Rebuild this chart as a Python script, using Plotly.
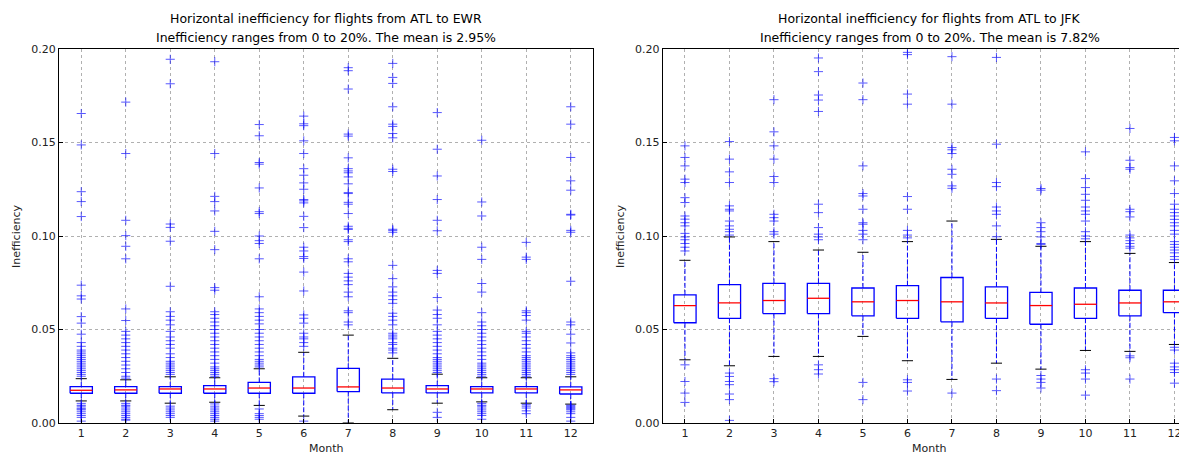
import plotly.graph_objects as go

months = list(range(1, 13))
month_labels = [str(m) for m in months]
y_ticks = [0.0, 0.05, 0.10, 0.15, 0.20]
y_tick_labels = ["0.00", "0.05", "0.10", "0.15", "0.20"]

title_ewr = ["Horizontal inefficiency for flights from ATL to EWR",
             "Inefficiency ranges from 0 to 20%. The mean is 2.95%"]
title_jfk = ["Horizontal inefficiency for flights from ATL to JFK",
             "Inefficiency ranges from 0 to 20%. The mean is 7.82%"]

# ATL -> EWR box statistics
ewr_q1 = [0.0159, 0.0159, 0.0159, 0.0159, 0.0159, 0.0159, 0.0168, 0.0161, 0.0161, 0.0161, 0.0161, 0.0155]
ewr_med = [0.0175, 0.0177, 0.0182, 0.0182, 0.0187, 0.0187, 0.0193, 0.0187, 0.0182, 0.0182, 0.0182, 0.0177]
ewr_q3 = [0.0194, 0.0194, 0.0194, 0.0200, 0.0217, 0.0247, 0.0292, 0.0235, 0.0200, 0.0194, 0.0194, 0.0193]
ewr_lo = [0.0118, 0.0118, 0.0106, 0.0111, 0.0094, 0.0037, 0.0000, 0.0071, 0.0106, 0.0113, 0.0106, 0.0101]
ewr_hi = [0.0237, 0.0231, 0.0247, 0.0242, 0.0290, 0.0378, 0.0470, 0.0346, 0.0261, 0.0242, 0.0242, 0.0247]
ewr_fliers = [
    [0.1655, 0.1487, 0.1237, 0.1184, 0.1104, 0.0737, 0.068, 0.0663, 0.0569, 0.0534, 0.0475, 0.043, 0.041, 0.039,
     0.038, 0.037, 0.036, 0.035, 0.034, 0.033, 0.032, 0.031, 0.030, 0.029, 0.028, 0.027, 0.026, 0.025,
     0.0105, 0.0095, 0.009, 0.008, 0.0075, 0.007, 0.006, 0.005, 0.004, 0.003, 0.001],
    [0.1716, 0.1441, 0.1084, 0.1002, 0.0945, 0.0878, 0.061, 0.0548, 0.049, 0.047, 0.045, 0.043, 0.041, 0.039,
     0.037, 0.035, 0.033, 0.031, 0.029, 0.027, 0.025, 0.024,
     0.0105, 0.0095, 0.009, 0.008, 0.007, 0.006, 0.005, 0.004, 0.003, 0.002, 0.0015],
    [0.1945, 0.1814, 0.1064, 0.1046, 0.0972, 0.0731, 0.0595, 0.057, 0.055, 0.0525, 0.049, 0.046, 0.044, 0.042,
     0.040, 0.037, 0.035, 0.033, 0.032, 0.031, 0.030, 0.029, 0.028, 0.027, 0.026,
     0.009, 0.008, 0.007, 0.006, 0.005, 0.004, 0.003],
    [0.1932, 0.1441, 0.1212, 0.1184, 0.1134, 0.1025, 0.0927, 0.0724, 0.071, 0.0595, 0.058, 0.056, 0.054, 0.052,
     0.050, 0.048, 0.046, 0.044, 0.042, 0.040, 0.038, 0.036, 0.034, 0.032, 0.030, 0.029, 0.028, 0.027, 0.026, 0.025,
     0.0102, 0.009, 0.008, 0.007, 0.006, 0.005, 0.004, 0.003, 0.002, 0.001],
    [0.1596, 0.1536, 0.1393, 0.1384, 0.1257, 0.113, 0.112, 0.1, 0.0975, 0.096, 0.0878, 0.0675, 0.061, 0.059,
     0.057, 0.055, 0.053, 0.050, 0.048, 0.046, 0.044, 0.042, 0.040, 0.038, 0.036, 0.034, 0.033, 0.032, 0.031, 0.030,
     0.0075, 0.005, 0.004, 0.003, 0.002],
    [0.1641, 0.160, 0.159, 0.1509, 0.1441, 0.136, 0.1325, 0.1284, 0.125, 0.1195, 0.1188, 0.1177, 0.1105, 0.1045,
     0.094, 0.092, 0.089, 0.088, 0.0807, 0.0706, 0.0578, 0.056, 0.0534, 0.048, 0.046, 0.045, 0.043, 0.041,
     0.001],
    [0.190, 0.1884, 0.1786, 0.1545, 0.1534, 0.1418, 0.136, 0.1348, 0.1338, 0.1316, 0.1279, 0.1232, 0.1227, 0.118,
     0.117, 0.112, 0.1052, 0.1041, 0.1035, 0.098, 0.097, 0.0878, 0.0862, 0.080, 0.078, 0.076, 0.074, 0.070,
     0.0675, 0.060, 0.059, 0.054, 0.0525],
    [0.1923, 0.1848, 0.1816, 0.1691, 0.1598, 0.1586, 0.1548, 0.1525, 0.1357, 0.1345, 0.1036, 0.103, 0.102,
     0.0843, 0.0772, 0.0728, 0.070, 0.068, 0.066, 0.064, 0.0587, 0.057, 0.055, 0.0525, 0.048, 0.047, 0.046,
     0.045, 0.043, 0.042, 0.040, 0.039, 0.0375],
    [0.166, 0.1464, 0.1321, 0.1195, 0.1084, 0.1028, 0.0816, 0.080, 0.0671, 0.0604, 0.058, 0.056, 0.0525, 0.049,
     0.047, 0.045, 0.043, 0.041, 0.039, 0.037, 0.035, 0.034, 0.033, 0.032, 0.031, 0.030, 0.029, 0.028, 0.027,
     0.0057, 0.003],
    [0.1512, 0.1182, 0.1107, 0.094, 0.0875, 0.0746, 0.070, 0.059, 0.054, 0.052, 0.050, 0.048, 0.046, 0.044,
     0.042, 0.040, 0.038, 0.036, 0.034, 0.032, 0.031, 0.030, 0.029, 0.028, 0.027, 0.026, 0.025,
     0.0105, 0.0095, 0.009, 0.008, 0.007, 0.006, 0.005, 0.004, 0.002],
    [0.0966, 0.0887, 0.0875, 0.060, 0.059, 0.0575, 0.055, 0.049, 0.048, 0.046, 0.044, 0.042, 0.040, 0.038,
     0.036, 0.035, 0.034, 0.033, 0.032, 0.031, 0.030, 0.029, 0.028, 0.027, 0.026, 0.025,
     0.0098, 0.009, 0.008, 0.0065, 0.005],
    [0.1691, 0.1598, 0.142, 0.1295, 0.1245, 0.1116, 0.1112, 0.103, 0.102, 0.0758, 0.054, 0.0525, 0.0475, 0.0428,
     0.0375, 0.036, 0.035, 0.034, 0.033, 0.032, 0.031, 0.030, 0.029, 0.028, 0.027, 0.026,
     0.0095, 0.009, 0.0085, 0.008, 0.0075, 0.007, 0.006, 0.005, 0.003, 0.001],
]

# ATL -> JFK box statistics
jfk_q1 = [0.0536, 0.0560, 0.0585, 0.0585, 0.0573, 0.0560, 0.0541, 0.0560, 0.0528, 0.0560, 0.0573, 0.0590]
jfk_med = [0.0628, 0.0642, 0.0655, 0.0667, 0.0648, 0.0655, 0.0648, 0.0642, 0.0628, 0.0635, 0.0642, 0.0648]
jfk_q3 = [0.0685, 0.0740, 0.0747, 0.0747, 0.0722, 0.0735, 0.0778, 0.0728, 0.0698, 0.0722, 0.0710, 0.0710]
jfk_lo = [0.0338, 0.0306, 0.0356, 0.0356, 0.0463, 0.0333, 0.0233, 0.0320, 0.0288, 0.0388, 0.0383, 0.0420]
jfk_hi = [0.0870, 0.0995, 0.0970, 0.0925, 0.0913, 0.0970, 0.1080, 0.0982, 0.0945, 0.0970, 0.0907, 0.0858]
jfk_fliers = [
    [0.1482, 0.142, 0.1375, 0.1304, 0.1286, 0.1205, 0.1179, 0.1107, 0.109, 0.1071, 0.1054, 0.1014, 0.0995,
     0.098, 0.096, 0.094, 0.092, 0.0311, 0.0222, 0.016, 0.011],
    [0.1505, 0.1411, 0.1343, 0.1286, 0.1161, 0.1143, 0.1134, 0.108, 0.1054, 0.1036, 0.1023, 0.1005,
     0.0267, 0.0249, 0.0222, 0.0205, 0.0155, 0.0125, 0.0014],
    [0.1729, 0.1557, 0.1482, 0.1411, 0.1318, 0.1286, 0.1116, 0.1098, 0.108, 0.1023, 0.101, 0.0237, 0.0221],
    [0.1952, 0.1879, 0.1754, 0.1727, 0.1666, 0.117, 0.1125, 0.1045, 0.101, 0.0995, 0.098, 0.0311, 0.0285, 0.0262],
    [0.1818, 0.1729, 0.1375, 0.1227, 0.1214, 0.1143, 0.1071, 0.1063, 0.103, 0.101, 0.098, 0.0217, 0.0125],
    [0.1982, 0.197, 0.1759, 0.1705, 0.1211, 0.1143, 0.103, 0.1005, 0.099, 0.0231, 0.0217, 0.0171],
    [0.1959, 0.1705, 0.1473, 0.1461, 0.1441, 0.1357, 0.133, 0.1268, 0.1255, 0.016],
    [0.1955, 0.1491, 0.1286, 0.1264, 0.1155, 0.1134, 0.1116, 0.1054, 0.0996, 0.0235, 0.0173],
    [0.1254, 0.1245, 0.1071, 0.1045, 0.1023, 0.0995, 0.096, 0.0955, 0.0254, 0.0235, 0.0217, 0.0187],
    [0.145, 0.1307, 0.1259, 0.1223, 0.1191, 0.1155, 0.1134, 0.1116, 0.108, 0.1023, 0.100, 0.0985,
     0.0285, 0.0267, 0.0235, 0.0149],
    [0.1575, 0.1405, 0.1366, 0.1357, 0.1143, 0.113, 0.1102, 0.1005, 0.099, 0.0975, 0.096, 0.0945, 0.0935,
     0.0359, 0.0349, 0.0235],
    [0.1527, 0.1509, 0.1375, 0.1295, 0.1227, 0.117, 0.1143, 0.1125, 0.1107, 0.1089, 0.1071, 0.1054, 0.103,
     0.101, 0.097, 0.0955, 0.094, 0.0925, 0.091, 0.089, 0.0875,
     0.0405, 0.039, 0.032, 0.030, 0.0285, 0.027, 0.0213],
]

BOX_HALF = 0.25
CAP_HALF = 0.125
FONT = "DejaVu Sans"

fig = go.Figure()


def add_boxplot(q1, med, q3, lo, hi, fliers, xa, ya):
    bx, by, mx, my, wx, wy, cx, cy, fx, fy = [], [], [], [], [], [], [], [], [], []
    for i, m in enumerate(months):
        bx += [m - BOX_HALF, m + BOX_HALF, m + BOX_HALF, m - BOX_HALF, m - BOX_HALF, None]
        by += [q1[i], q1[i], q3[i], q3[i], q1[i], None]
        mx += [m - BOX_HALF, m + BOX_HALF, None]
        my += [med[i], med[i], None]
        wx += [m, m, None, m, m, None]
        wy += [q1[i], lo[i], None, q3[i], hi[i], None]
        cx += [m - CAP_HALF, m + CAP_HALF, None, m - CAP_HALF, m + CAP_HALF, None]
        cy += [lo[i], lo[i], None, hi[i], hi[i], None]
        fx += [m] * len(fliers[i])
        fy += fliers[i]
    common = dict(xaxis=xa, yaxis=ya, hoverinfo="skip", showlegend=False, cliponaxis=True)
    fig.add_trace(go.Scatter(x=wx, y=wy, mode="lines",
                             line=dict(color="#0000ff", width=1, dash="5px,2px"), **common))
    fig.add_trace(go.Scatter(x=cx, y=cy, mode="lines", line=dict(color="black", width=1), **common))
    fig.add_trace(go.Scatter(x=bx, y=by, mode="lines", line=dict(color="#0000ff", width=1.3), **common))
    fig.add_trace(go.Scatter(x=mx, y=my, mode="lines", line=dict(color="#ff0000", width=1.3), **common))
    fig.add_trace(go.Scatter(x=fx, y=fy, mode="markers",
                             marker=dict(symbol="cross-thin", size=6.5, opacity=0.65,
                                         line=dict(color="#0000ff", width=1)), **common))


add_boxplot(ewr_q1, ewr_med, ewr_q3, ewr_lo, ewr_hi, ewr_fliers, "x", "y")
add_boxplot(jfk_q1, jfk_med, jfk_q3, jfk_lo, jfk_hi, jfk_fliers, "x2", "y2")

# the page body adds an 8px margin, so the figure is laid out 8px smaller
OFF = 8
W, H = 1187 - OFF, 456 - OFF
L1, R1 = 59 - OFF, 593 - OFF
L2 = 662.7 - OFF
TOP, BOT = 49 - OFF, 423 - OFF
UNIT = (R1 - L1) / 12.0

xcommon = dict(tickmode="array", tickvals=months, ticktext=month_labels,
               showgrid=True, gridcolor="#b0b0b0", griddash="dot", gridwidth=1,
               showline=True, linecolor="black", linewidth=1, mirror=True,
               ticks="inside", ticklen=4, tickcolor="black", zeroline=False,
               tickfont=dict(family=FONT, size=11, color="#222"), automargin=False)
ycommon = dict(range=[0, 0.2], tickmode="array", tickvals=y_ticks, ticktext=y_tick_labels,
               showgrid=True, gridcolor="#b0b0b0", griddash="dot", gridwidth=1,
               showline=True, linecolor="black", linewidth=1,
               ticks="inside", ticklen=4, tickcolor="black", zeroline=False,
               tickfont=dict(family=FONT, size=11, color="#222"), automargin=False)

fig.update_layout(
    width=W, height=H,
    margin=dict(l=0, r=0, t=TOP, b=H - BOT, pad=0),
    plot_bgcolor="white", paper_bgcolor="white",
    xaxis=dict(domain=[L1 / W, R1 / W], range=[0.5, 12.5], anchor="y", **xcommon),
    yaxis=dict(domain=[0, 1], anchor="x", mirror=True, **ycommon),
    xaxis2=dict(domain=[L2 / W, 1.0], range=[0.5, 0.5 + (W - L2) / UNIT], anchor="y2", **xcommon),
    yaxis2=dict(domain=[0, 1], anchor="x2", mirror=False, **ycommon),
)


def py(px):
    return (BOT - px) / (BOT - TOP)


annots = []
centers = [((L1 + R1) / 2) / W, (L2 + (R1 - L1) / 2) / W]
for cx_, title, ylab_x in zip(centers, [title_ewr, title_jfk], [(16 - OFF) / W, (620 - OFF) / W]):
    annots.append(dict(text=title[0], x=cx_, y=py(19 - OFF), xref="paper", yref="paper",
                       showarrow=False, xanchor="center", yanchor="middle",
                       font=dict(family=FONT, size=12.5, color="black")))
    annots.append(dict(text=title[1], x=cx_, y=py(37 - OFF), xref="paper", yref="paper",
                       showarrow=False, xanchor="center", yanchor="middle",
                       font=dict(family=FONT, size=12.5, color="black")))
    annots.append(dict(text="Month", x=cx_, y=py(448 - OFF), xref="paper", yref="paper",
                       showarrow=False, xanchor="center", yanchor="middle",
                       font=dict(family=FONT, size=11, color="#222")))
    annots.append(dict(text="Inefficiency", x=ylab_x, y=py(236 - OFF), xref="paper", yref="paper",
                       showarrow=False, xanchor="center", yanchor="middle", textangle=-90,
                       font=dict(family=FONT, size=11, color="#222")))
fig.update_layout(annotations=annots)

fig.write_html("out.html")
